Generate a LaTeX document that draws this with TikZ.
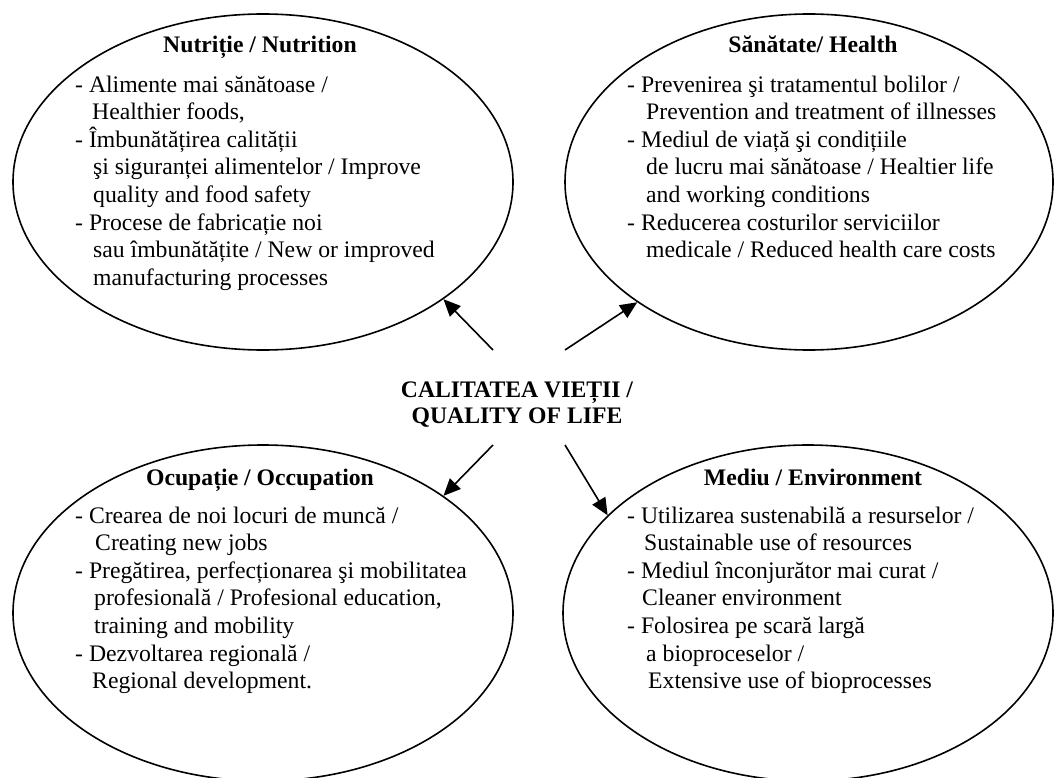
\documentclass[tikz,border=0pt]{standalone}
\usepackage{fontspec}
\setmainfont{Liberation Serif}
\usetikzlibrary{shapes.geometric,arrows.meta}
\newcommand{\ind}[1][18pt]{\hspace*{#1}}
\begin{document}
\begin{tikzpicture}[x=1pt,y=-1pt,
  bubble/.style={draw,ellipse,line width=1.6pt,minimum width=500pt,minimum height=336pt,inner sep=0pt},
  title/.style={font=\fontsize{23.7}{26}\selectfont\bfseries,inner sep=0pt,anchor=base},
  body/.style={font=\fontsize{23.7}{27.6}\selectfont,align=left,anchor=base west,inner sep=0pt},
  link/.style={line width=1.6pt,-{Triangle[length=17pt,width=15pt]}}]
\useasboundingbox (0,0) rectangle (1059,778);
% ellipses
\node[bubble,minimum width=500pt] (n) at (263,182) {};
\node[bubble,minimum width=488pt] (h) at (809,182) {};
\node[bubble,minimum width=500pt] (o) at (263,613) {};
\node[bubble,minimum width=490pt] (e) at (808,613) {};
% titles
\node[title] (nt) at (260,53) {Nutriție / Nutrition};
\node[title] (ht) at (813,53) {Sănătate/ Health};
\node[title] (ot) at (260,485) {Ocupație / Occupation};
\node[title] (et) at (813,485) {Mediu / Environment};
% bodies (anchored at the baseline of their last line)
\node[body] (nb) at (75,285.2) {- Alimente mai sănătoase /\\
\ind[17pt]Healthier foods,\\
- Îmbunătățirea calității\\
\ind şi siguranței alimentelor / Improve\\
\ind quality and food safety\\
- Procese de fabricație noi\\
\ind sau îmbunătățite / New or improved\\
\ind manufacturing processes};
\node[body] (hb) at (627,257.6) {- Prevenirea şi tratamentul bolilor /\\
\ind[19pt]Prevention and treatment of illnesses\\
- Mediul de viață şi condițiile\\
\ind[19pt]de lucru mai sănătoase / Healtier life\\
\ind[19pt]and working conditions\\
- Reducerea costurilor serviciilor\\
\ind[19pt]medicale / Reduced health care costs};
\node[body] (ob) at (75,688.6) {- Crearea de noi locuri de muncă /\\
\ind[20pt]Creating new jobs\\
- Pregătirea, perfecționarea şi mobilitatea\\
\ind[19pt]profesională / Profesional education,\\
\ind[19pt]training and mobility\\
- Dezvoltarea regională /\\
\ind[17pt]Regional development.};
\node[body] (eb) at (627,688.6) {- Utilizarea sustenabilă a resurselor /\\
\ind[17pt]Sustainable use of resources\\
- Mediul înconjurător mai curat /\\
\ind[15pt]Cleaner environment\\
- Folosirea pe scară largă\\
\ind[19pt]a bioproceselor /\\
\ind[21pt]Extensive use of bioprocesses};
% centre
\node[title,align=center] (q) at (517,423) {CALITATEA VIEȚII /\\QUALITY OF LIFE};
% arrow tails
\coordinate (t1) at (493,350);
\coordinate (t2) at (565,350);
\coordinate (t3) at (493,445);
\coordinate (t4) at (565,445);
\draw[link] (t1) -- (n.-33);
\draw[link] (t2) -- (h.-145);
\draw[link] (t3) -- (o.33);
\draw[link] (t4) -- (e.154);
\end{tikzpicture}
\end{document}
